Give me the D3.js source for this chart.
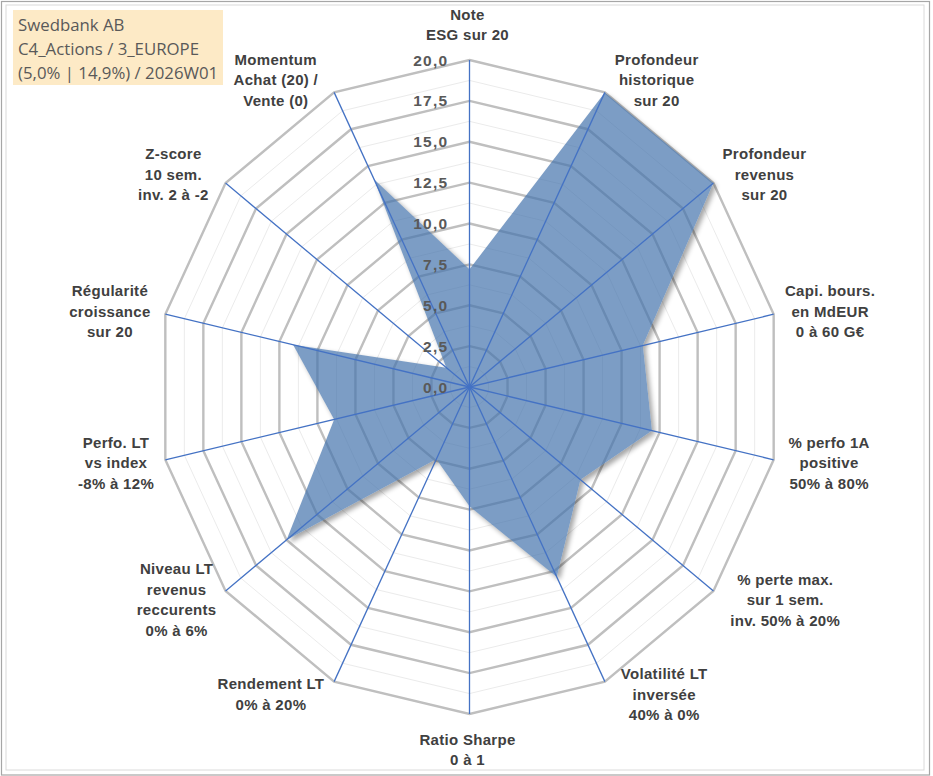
<!DOCTYPE html>
<html><head><meta charset="utf-8">
<script src="https://cdn.jsdelivr.net/npm/d3@7/dist/d3.min.js"></script>
<style>body{margin:0;background:#fff}svg{display:block}</style>
</head><body>
<svg id="c" width="933" height="776"></svg>
<script>
const titleLines = ["Swedbank AB", "C4_Actions / 3_EUROPE", "(5,0% | 14,9%) / 2026W01"];
const categories = [
  ["Note", "ESG sur 20"],
  ["Profondeur", "historique", "sur 20"],
  ["Profondeur", "revenus", "sur 20"],
  ["Capi. bours.", "en MdEUR", "0 à 60 G€"],
  ["% perfo 1A", "positive", "50% à 80%"],
  ["% perte max.", "sur 1 sem.", "inv. 50% à 20%"],
  ["Volatilité LT", "inversée", "40% à 0%"],
  ["Ratio Sharpe", "0 à 1"],
  ["Rendement LT", "0% à 20%"],
  ["Niveau LT", "revenus", "reccurents", "0% à 6%"],
  ["Perfo. LT", "vs index", "-8% à 12%"],
  ["Régularité", "croissance", "sur 20"],
  ["Z-score", "10 sem.", "inv. 2 à -2"],
  ["Momentum", "Achat (20) /", "Vente (0)"]
];
const values = [7.2, 20, 20, 11.4, 12.0, 9.1, 12.9, 7.3, 4.9, 15.0, 8.9, 11.6, 1.9, 14.1];
const majorTicks = [0, 2.5, 5, 7.5, 10, 12.5, 15, 17.5, 20];
const minorTicks = [1.25, 3.75, 6.25, 8.75, 11.25, 13.75, 16.25, 18.75];
const tickLabels = ["0,0", "2,5", "5,0", "7,5", "10,0", "12,5", "15,0", "17,5", "20,0"];

const svg = d3.select("#c");
const W = 933, H = 776;
const cx = 469.5, cy = 387, rx = 312, ry = 327;
const n = categories.length;
const r = d3.scaleLinear().domain([0, 20]).range([0, 1]);
const ang = d3.scaleLinear().domain([0, n]).range([0, 2 * Math.PI]);
const px = (i, v) => cx + rx * r(v) * Math.sin(ang(i));
const py = (i, v) => cy - ry * r(v) * Math.cos(ang(i));
const idx = d3.range(n);
const ringPath = v => "M" + idx.map(i => px(i, v) + "," + py(i, v)).join("L") + "Z";

// frame
svg.append("rect").attr("x", 1.5).attr("y", 1.5).attr("width", 928).attr("height", 773.5)
  .attr("fill", "#fff").attr("stroke", "#a6a6a6").attr("stroke-width", 1.2);
svg.append("rect").attr("x", 6).attr("y", 5).attr("width", 918).attr("height", 765)
  .attr("fill", "none").attr("stroke", "#dadada").attr("stroke-width", 1);

const defs = svg.append("defs");
const dataPath = "M" + idx.map(i => px(i, values[i]) + "," + py(i, values[i])).join("L") + "Z";
const mask = defs.append("mask").attr("id", "outside");
mask.append("rect").attr("width", W).attr("height", H).attr("fill", "#fff");
mask.append("path").attr("d", dataPath).attr("fill", "#000");
defs.append("filter").attr("id", "blur").attr("x", "-10%").attr("y", "-10%").attr("width", "120%").attr("height", "120%")
  .append("feGaussianBlur").attr("stdDeviation", 2.6);

// minor rings
svg.append("g").selectAll("path").data(minorTicks).join("path")
  .attr("d", ringPath).attr("fill", "none").attr("stroke", "#ebebeb").attr("stroke-width", 1);
// major rings
svg.append("g").selectAll("path").data(majorTicks.slice(1)).join("path")
  .attr("d", ringPath).attr("fill", "none").attr("stroke", "#bfbfbf").attr("stroke-width", 2.4)
  .attr("stroke-linejoin", "miter");

// shadow
svg.append("g").attr("mask", "url(#outside)")
  .append("path").attr("d", dataPath).attr("transform", "translate(3,3)")
  .attr("fill", "#000").attr("opacity", 0.35).attr("filter", "url(#blur)");
// data fill
svg.append("path").attr("d", dataPath).attr("fill", "#4474ac").attr("fill-opacity", 0.7);

// spokes
svg.append("g").selectAll("line").data(idx).join("line")
  .attr("x1", cx).attr("y1", cy)
  .attr("x2", i => px(i, 20)).attr("y2", i => py(i, 20))
  .attr("stroke", "#4472c4").attr("stroke-width", 1.3);

// tick labels
svg.append("g").selectAll("text").data(majorTicks).join("text")
  .attr("x", cx - 21).attr("y", d => cy - ry * r(d))
  .attr("dy", "0.36em").attr("text-anchor", "end")
  .attr("font-family", "Liberation Sans, Arial, sans-serif").attr("font-weight", "bold")
  .attr("font-size", 15.5).attr("letter-spacing", 1.3).attr("fill", "#595959")
  .text((d, i) => tickLabels[i]);

// axis labels
const lh = 20.5;
const lab = svg.append("g").attr("font-family", "Liberation Sans, Arial, sans-serif")
  .attr("font-weight", "bold").attr("font-size", 15).attr("letter-spacing", 0.3).attr("fill", "#404040")
  .attr("text-anchor", "middle");
idx.forEach(i => {
  const lines = categories[i];
  const t = lab.append("text");
  lines.forEach((s, k) => t.append("tspan").text(s));
  const w = d3.max(t.selectAll("tspan").nodes(), nd => nd.getComputedTextLength());
  const h = lines.length * lh;
  const a = ang(i);
  const s = Math.sin(a), c = Math.cos(a);
  const vx = px(i, 20), vy = py(i, 20);
  let x, y;
  if (Math.abs(s) < 0.05) { x = vx - 2; y = vy - Math.sign(c) * (15 + h / 2); }
  else {
    const gap = 13 - 4 * Math.sin(2 * a);
    x = vx + Math.sign(s) * (gap + w / 2); y = vy - c * 14;
  }
  t.selectAll("tspan").attr("x", x)
    .attr("y", (d, k) => y + (k - (lines.length - 1) / 2) * lh)
    .attr("dy", "0.36em");
});

// title box
svg.append("rect").attr("x", 13).attr("y", 10).attr("width", 210).attr("height", 75).attr("fill", "#fdeac6");
svg.append("g").selectAll("text").data(titleLines).join("text")
  .attr("x", 18).attr("y", (d, i) => 30.5 + i * 24)
  .attr("font-family", "Open Sans, sans-serif").attr("font-size", 16.8).attr("fill", "#595959")
  .text(d => d);
</script>
</body></html>
